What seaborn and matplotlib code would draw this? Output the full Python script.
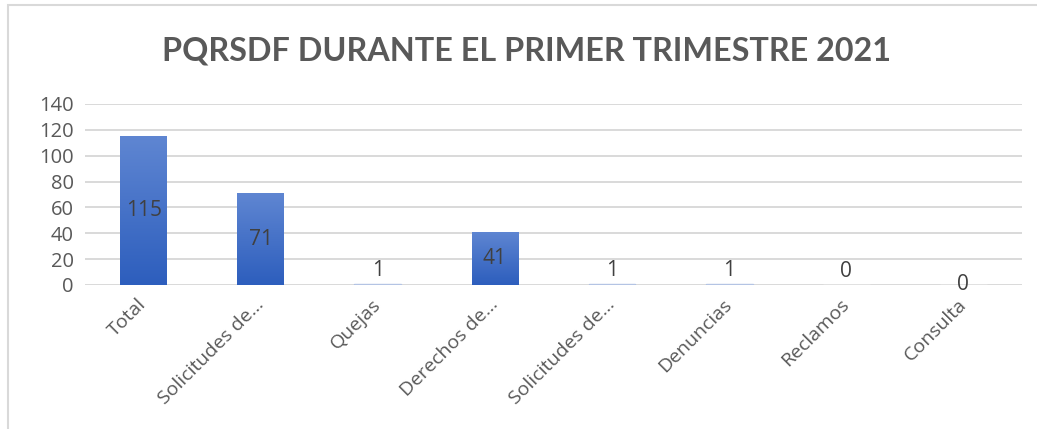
import numpy as np
import pandas as pd
import matplotlib.pyplot as plt
import seaborn as sns
from matplotlib.patches import Rectangle

# data
categorias = ['Total', 'Solicitudes de...', 'Quejas', 'Derechos de...',
              'Solicitudes de...', 'Denuncias', 'Reclamos', 'Consulta']
valores = [115, 71, 1, 41, 1, 1, 0, 0]
titulo = 'PQRSDF DURANTE EL PRIMER TRIMESTRE 2021'
yticks = [0, 20, 40, 60, 80, 100, 120, 140]

df = pd.DataFrame({'pos': range(len(categorias)), 'valor': valores})

sns.set_theme(style='white')
plt.rcParams['font.family'] = ['Open Sans', 'DejaVu Sans']

fig = plt.figure(figsize=(10.37, 4.29), dpi=100)
ax = fig.add_axes([0.082, 0.3357, 0.9035, 0.4219])

sns.barplot(data=df, x='pos', y='valor', color='#4472C4', width=0.4,
            saturation=1, ax=ax, zorder=3)

# vertical gradient fill like the Excel bars
grad = np.linspace(0, 1, 256).reshape(-1, 1)
cmap = plt.matplotlib.colors.LinearSegmentedColormap.from_list(
    'g', ['#2D5EBD', '#5F86D2'])
for p in ax.patches:
    x0, y0 = p.get_x(), p.get_y()
    w, h = p.get_width(), p.get_height()
    if h <= 0:
        continue
    p.set_facecolor('none')
    p.set_edgecolor('none')
    im = ax.imshow(grad, extent=[x0, x0 + w, y0, y0 + h], origin='lower',
                   cmap=cmap, aspect='auto', zorder=3)
    im.set_clip_path(p)
    if h < 3:
        ax.add_patch(Rectangle((x0, y0), w, h, color='#B4C4E4', zorder=3))

ax.set_xlim(-0.5, len(categorias) - 0.5)
ax.set_ylim(0, 140)
ax.set_yticks(yticks)
ax.set_yticklabels([str(t) for t in yticks], fontsize=14.5, color='#595959')
ax.set_xticks(range(len(categorias)))
ax.set_xticklabels(categorias, rotation=45, ha='right', va='center',
                   rotation_mode='anchor', fontsize=14, color='#595959')
ax.tick_params(axis='x', pad=12, length=0)
ax.tick_params(axis='y', pad=8, length=0)
ax.set_xlabel('')
ax.set_ylabel('')
ax.grid(axis='y', color='#D9D9D9', linewidth=1.4, zorder=0)
for s in ax.spines.values():
    s.set_visible(False)

# data labels
for i, v in enumerate(valores):
    if v > 10:
        ax.text(i, v / 2, str(v), ha='center', va='center', fontsize=15,
                color='#404040', zorder=5)
    elif i == len(valores) - 1:
        ax.text(i, v, str(v), ha='center', va='center', fontsize=15,
                color='#404040', zorder=5)
    else:
        ax.text(i, v + 2, str(v), ha='center', va='bottom', fontsize=15,
                color='#404040', zorder=5)

fig.text(0.508, 0.88, titulo, ha='center', va='center', fontsize=23.3,
         fontweight='bold', color='#595959', family=['Lato', 'DejaVu Sans'])

# chart frame
fig.patches.append(Rectangle((8 / 1037, -0.1), 1.2, 1 - 5 / 429 + 0.1,
                             transform=fig.transFigure, fill=False,
                             edgecolor='#D9D9D9', linewidth=1.5))

fig.savefig('out.png', dpi=100)
